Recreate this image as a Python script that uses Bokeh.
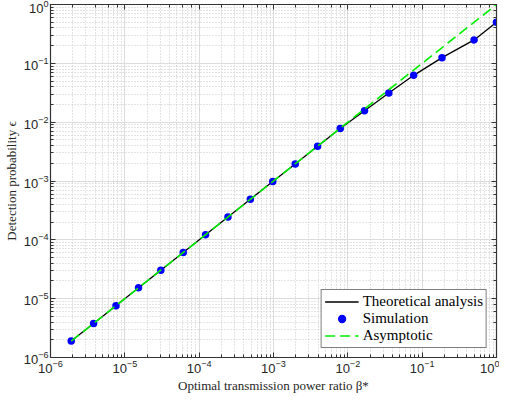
from bokeh.plotting import figure
from bokeh.models import LogAxis, Legend, LegendItem, CustomJSTickFormatter
from bokeh.embed import file_html
from bokeh.resources import INLINE

# Simulation / theoretical points (ascending)
beta = [1.9e-6, 3.8e-6, 7.6e-6, 1.53e-5, 3.05e-5, 6.1e-5, 1.22e-4, 2.44e-4,
        4.88e-4, 9.77e-4, 1.96e-3, 3.92e-3, 7.9e-3, 0.0168, 0.0356, 0.077,
        0.185, 0.5, 1.0]
eps = [1.9e-6, 3.8e-6, 7.6e-6, 1.53e-5, 3.05e-5, 6.1e-5, 1.22e-4, 2.44e-4,
       4.88e-4, 9.77e-4, 1.95e-3, 3.9e-3, 7.8e-3, 0.0156, 0.03125, 0.0625,
       0.125, 0.25, 0.5]
# Asymptotic line endpoints
asym_x = [1.9e-6, 1.0]
asym_y = [1.9e-6, 1.0]

p = figure(width=499, height=395, x_axis_type="log", y_axis_type="log",
           x_range=(1e-6, 1.0), y_range=(1e-6, 1.0),
           output_backend="svg", toolbar_location=None,
           min_border_left=41, min_border_right=2, min_border_top=4,
           min_border_bottom=0)

p.outline_line_color = "#333333"
p.outline_line_width = 1.2

tick_font = "Liberation Sans"
for ax in (p.xaxis[0], p.yaxis[0]):
    ax.major_label_text_font = tick_font
    ax.major_label_text_font_size = "13px"
    ax.major_label_text_color = "#262626"
    ax.axis_line_color = "#333333"
    ax.major_tick_in = 5
    ax.major_tick_out = 0
    ax.minor_tick_in = 3
    ax.minor_tick_out = 0
    ax.major_tick_line_color = "#333333"
    ax.minor_tick_line_color = "#333333"
    ax.axis_label_text_font = "Liberation Serif"
    ax.axis_label_text_font_style = "normal"
    ax.axis_label_text_font_size = "13px"
    ax.axis_label_text_color = "#262626"
    ax.major_label_standoff = 2
    ax.axis_label_standoff = 2

p.xaxis.axis_label = "Optimal transmission power ratio \u03b2*"
p.yaxis.axis_label = "Detection probability \u03f5"

for loc in ("above", "right"):
    a = LogAxis(formatter=CustomJSTickFormatter(code="return ' ';"),
                major_label_text_font_size="1px",
                major_tick_in=5, major_tick_out=0,
                minor_tick_in=3, minor_tick_out=0, axis_line_color="#333333",
                major_tick_line_color="#333333", minor_tick_line_color="#333333",
                major_label_standoff=0)
    p.add_layout(a, loc)

for g in (p.xgrid[0], p.ygrid[0]):
    g.grid_line_color = "#dcdcdc"
    g.grid_line_width = 1
    g.minor_grid_line_color = "#c8c8c8"
    g.minor_grid_line_dash = "1 2"
    g.minor_grid_line_width = 1

r_theory = p.line(beta, eps, line_color="black", line_width=1.3)
r_sim = p.scatter(beta, eps, marker="circle", size=6, fill_color="#0000ff",
                  line_color="#0000ff", line_width=1.5)
r_asym = p.line(asym_x, asym_y, line_color="#00ee00", line_width=1.6, line_dash="10 5")

legend = Legend(items=[
    LegendItem(label="Theoretical analysis", renderers=[r_theory]),
    LegendItem(label="Simulation", renderers=[r_sim]),
    LegendItem(label="Asymptotic", renderers=[r_asym]),
], location="bottom_right")
legend.label_text_font = "Liberation Serif"
legend.label_text_font_size = "15px"
legend.label_text_color = "black"
legend.border_line_color = "black"
legend.border_line_width = 1
legend.background_fill_alpha = 1
legend.margin = 9
legend.padding = 3
legend.spacing = 0
legend.label_height = 17
legend.glyph_height = 17
legend.glyph_width = 34
legend.label_standoff = 4
p.add_layout(legend)

open("out.html", "w").write(file_html(p, INLINE))
